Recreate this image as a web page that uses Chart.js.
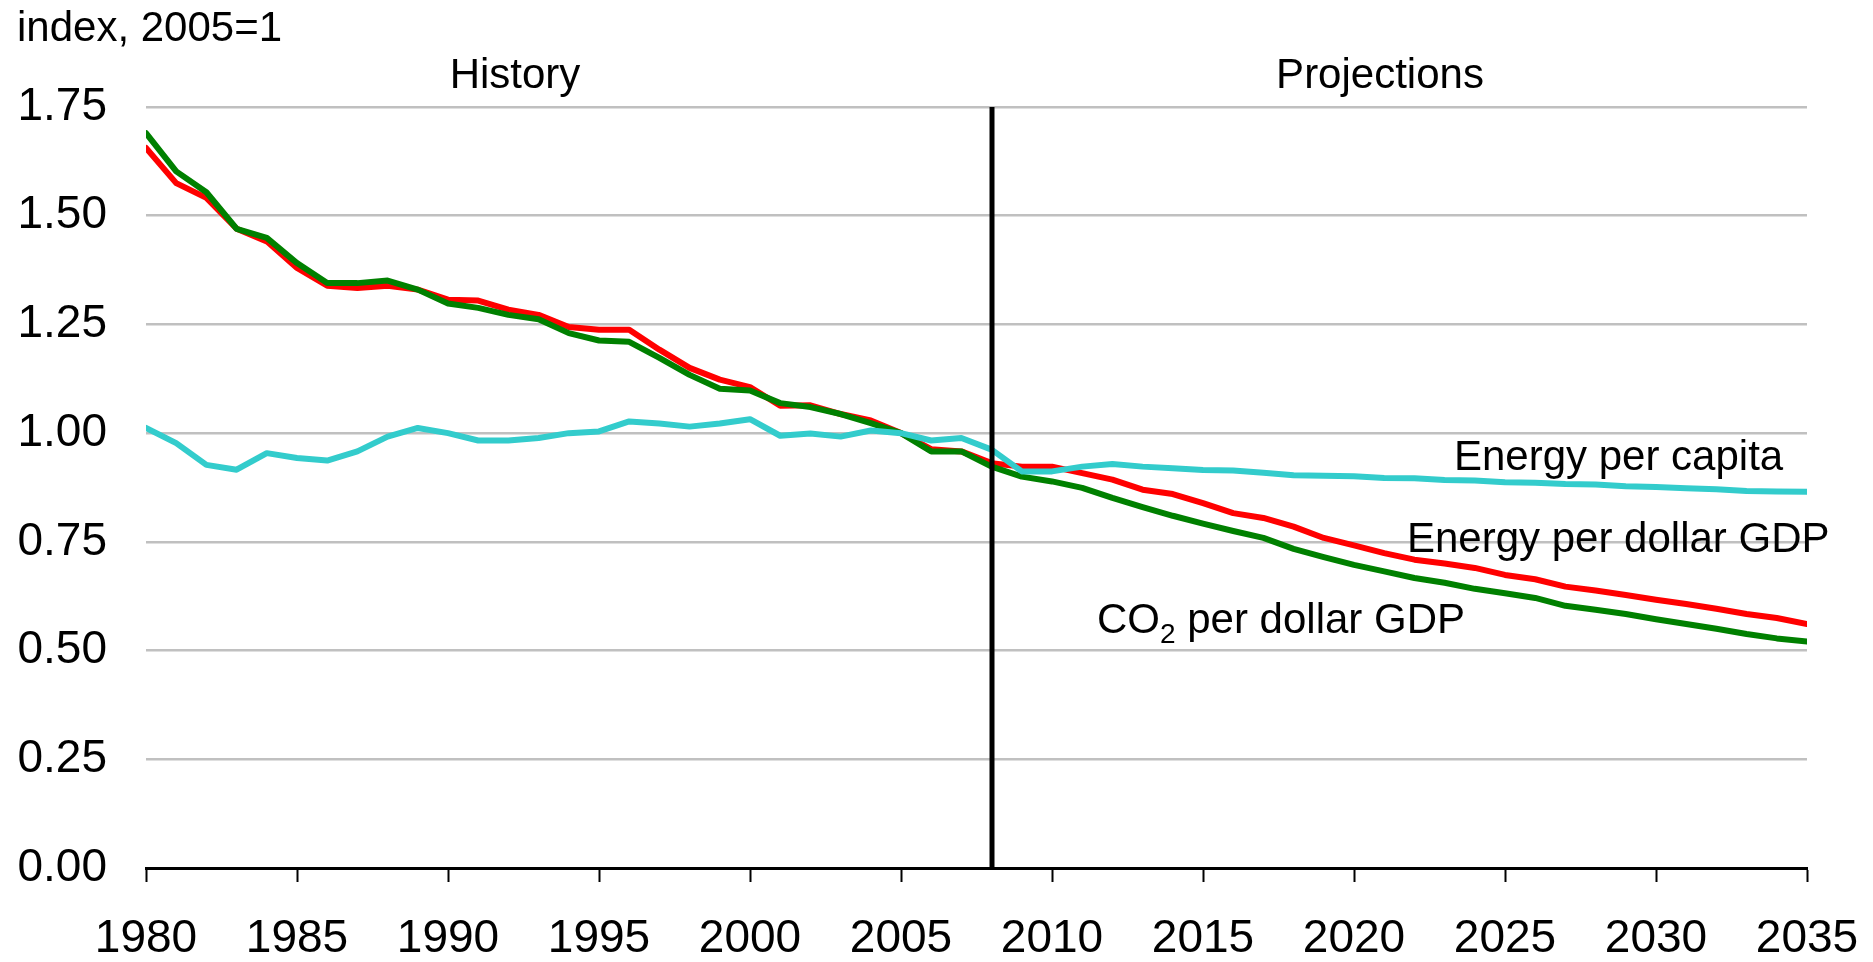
<!DOCTYPE html>
<html>
<head>
<meta charset="utf-8">
<script src="https://cdn.jsdelivr.net/npm/chart.js@4.4.1/dist/chart.umd.min.js"></script>
<style>
    html, body { margin: 0; padding: 0; background: #ffffff; }
    #wrap { width: 1873px; height: 962px; position: relative; }
</style>
</head>
<body>
<div id="wrap"><canvas id="myChart" width="1873" height="962"></canvas></div>
<script>
var years = [1980, 1981, 1982, 1983, 1984, 1985, 1986, 1987, 1988, 1989,
    1990, 1991, 1992, 1993, 1994, 1995, 1996, 1997, 1998, 1999,
    2000, 2001, 2002, 2003, 2004, 2005, 2006, 2007, 2008, 2009,
    2010, 2011, 2012, 2013, 2014, 2015, 2016, 2017, 2018, 2019,
    2020, 2021, 2022, 2023, 2024, 2025, 2026, 2027, 2028, 2029,
    2030, 2031, 2032, 2033, 2034, 2035];

var energyPerCapita = [1.012, 0.977, 0.927, 0.916, 0.954, 0.943, 0.937, 0.958, 0.992, 1.012,
    1.000, 0.983, 0.983, 0.989, 1.000, 1.004, 1.027, 1.022, 1.015, 1.022,
    1.032, 0.994, 0.999, 0.992, 1.006, 1.000, 0.983, 0.989, 0.962, 0.912,
    0.912, 0.923, 0.929, 0.923, 0.919, 0.915, 0.914, 0.909, 0.903, 0.902,
    0.901, 0.897, 0.896, 0.892, 0.891, 0.887, 0.886, 0.883, 0.882, 0.878,
    0.876, 0.873, 0.871, 0.867, 0.866, 0.865];

var energyPerGdp = [1.656, 1.575, 1.541, 1.470, 1.441, 1.380, 1.339, 1.334, 1.339, 1.330,
    1.307, 1.305, 1.284, 1.272, 1.244, 1.238, 1.238, 1.192, 1.150, 1.123,
    1.106, 1.063, 1.064, 1.044, 1.029, 1.000, 0.963, 0.958, 0.931, 0.923,
    0.923, 0.908, 0.893, 0.870, 0.860, 0.839, 0.816, 0.805, 0.785, 0.759,
    0.742, 0.724, 0.709, 0.700, 0.690, 0.674, 0.664, 0.647, 0.638, 0.628,
    0.617, 0.607, 0.596, 0.584, 0.575, 0.561];

var co2PerGdp = [1.690, 1.602, 1.554, 1.470, 1.449, 1.391, 1.345, 1.345, 1.351, 1.330,
    1.298, 1.288, 1.272, 1.262, 1.230, 1.213, 1.210, 1.173, 1.134, 1.102,
    1.098, 1.069, 1.060, 1.044, 1.023, 1.000, 0.958, 0.958, 0.923, 0.900,
    0.889, 0.874, 0.851, 0.830, 0.810, 0.792, 0.775, 0.759, 0.734, 0.715,
    0.697, 0.682, 0.667, 0.656, 0.642, 0.632, 0.621, 0.603, 0.594, 0.584,
    0.572, 0.561, 0.550, 0.538, 0.528, 0.521];

var yTicks = [0, 0.25, 0.5, 0.75, 1.0, 1.25, 1.5, 1.75];
var xTicks = [1980, 1985, 1990, 1995, 2000, 2005, 2010, 2015, 2020, 2025, 2030, 2035];
var splitYear = 2008;

var FONT = '"Liberation Sans", Arial, sans-serif';

function toPoints(values) {
    var pts = [];
    for (var i = 0; i < years.length; i++) {
        pts.push({ x: years[i], y: values[i] });
    }
    return pts;
}

// divider line + all the free text on the chart
var annotations = {
    id: 'annotations',
    afterDatasetsDraw: function (chart) {
        var ctx = chart.ctx;
        var x = chart.scales.x;
        var y = chart.scales.y;
        var px = Math.round(x.getPixelForValue(splitYear));

        ctx.save();
        ctx.strokeStyle = '#000000';
        ctx.lineWidth = 5;
        ctx.beginPath();
        ctx.moveTo(px, y.getPixelForValue(1.75));
        ctx.lineTo(px, y.getPixelForValue(0));
        ctx.stroke();

        ctx.fillStyle = '#000000';
        ctx.textBaseline = 'middle';
        ctx.font = '42px ' + FONT;

        ctx.textAlign = 'left';
        ctx.fillText('index, 2005=1', 17, 29);

        ctx.textAlign = 'center';
        ctx.fillText('History', 515, 76);
        ctx.fillText('Projections', 1380, 76);

        ctx.textAlign = 'left';
        ctx.fillText('Energy per capita', 1454, 458);
        ctx.fillText('Energy per dollar GDP', 1407, 540);

        // CO2 with subscript
        var cx = 1097;
        ctx.fillText('CO', cx, 621);
        cx += ctx.measureText('CO').width;
        ctx.font = '28px ' + FONT;
        ctx.fillText('2', cx, 635);
        cx += ctx.measureText('2').width;
        ctx.font = '42px ' + FONT;
        ctx.fillText(' per dollar GDP', cx, 621);
        ctx.restore();
    }
};

function setupChart() {
    var ctx = document.getElementById('myChart').getContext('2d');
    var myChart = new Chart(ctx, {
        type: 'line',
        data: {
            datasets: [{
                label: 'Energy per capita',
                data: toPoints(energyPerCapita),
                borderColor: '#33CCCC',
                borderWidth: 6
            }, {
                label: 'CO2 per dollar GDP',
                data: toPoints(co2PerGdp),
                borderColor: '#008000',
                borderWidth: 6
            }, {
                label: 'Energy per dollar GDP',
                data: toPoints(energyPerGdp),
                borderColor: '#FF0000',
                borderWidth: 6
            }]
        },
        options: {
            responsive: false,
            animation: false,
            devicePixelRatio: 1,
            elements: {
                point: { radius: 0 },
                line: { tension: 0, borderCapStyle: 'round', borderJoinStyle: 'round' }
            },
            layout: {
                padding: { left: 0, right: 66, top: 107, bottom: 0 }
            },
            plugins: {
                legend: { display: false },
                tooltip: { enabled: false }
            },
            scales: {
                x: {
                    type: 'linear',
                    min: 1980,
                    max: 2035,
                    afterBuildTicks: function (scale) {
                        scale.ticks = xTicks.map(function (v) { return { value: v }; });
                    },
                    afterFit: function (scale) {
                        scale.height = 94;
                        scale.paddingLeft = 0;
                        scale.paddingRight = 0;
                    },
                    grid: {
                        drawOnChartArea: false,
                        drawTicks: true,
                        tickLength: 14,
                        tickWidth: 2,
                        color: '#000000'
                    },
                    border: { display: true, color: '#000000', width: 3 },
                    ticks: {
                        color: '#000000',
                        padding: 30,
                        maxRotation: 0,
                        autoSkip: false,
                        font: { family: FONT, size: 46 },
                        callback: function (v) { return String(v); }
                    }
                },
                y: {
                    min: 0,
                    max: 1.75,
                    afterBuildTicks: function (scale) {
                        scale.ticks = yTicks.map(function (v) { return { value: v }; });
                    },
                    afterFit: function (scale) { scale.width = 146; },
                    grid: {
                        drawTicks: false,
                        color: '#C0C0C0',
                        lineWidth: 2.5
                    },
                    border: { display: false },
                    ticks: {
                        color: '#000000',
                        padding: 39,
                        font: { family: FONT, size: 46 },
                        callback: function (v) { return Number(v).toFixed(2); }
                    }
                }
            }
        },
        plugins: [annotations]
    });
}

setupChart();
</script>
</body>
</html>
